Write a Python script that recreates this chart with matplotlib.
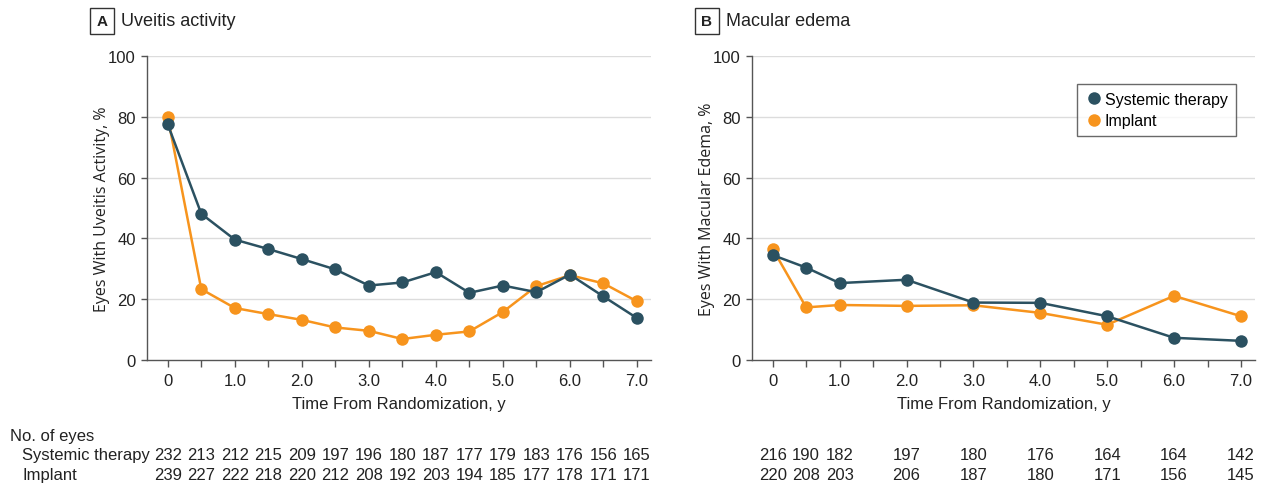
import matplotlib
matplotlib.use("Agg")
import matplotlib.pyplot as plt
from matplotlib.transforms import blended_transform_factory
from matplotlib.lines import Line2D

plt.rcParams['font.family'] = ['Liberation Sans Narrow', 'Liberation Sans', 'DejaVu Sans']

# ---- data ----
time_a = [0, 0.5, 1.0, 1.5, 2.0, 2.5, 3.0, 3.5, 4.0, 4.5, 5.0, 5.5, 6.0, 6.5, 7.0]
uveitis_systemic = [77.5, 48.1, 39.6, 36.5, 33.2, 29.8, 24.5, 25.5, 28.9, 22.1, 24.5, 22.3, 28.1, 20.9, 13.8]
uveitis_implant = [79.9, 23.3, 17.1, 15.1, 13.2, 10.7, 9.6, 6.9, 8.3, 9.4, 15.8, 24.3, 27.9, 25.2, 19.3]
eyes_a_systemic = [232, 213, 212, 215, 209, 197, 196, 180, 187, 177, 179, 183, 176, 156, 165]
eyes_a_implant = [239, 227, 222, 218, 220, 212, 208, 192, 203, 194, 185, 177, 178, 171, 171]

time_b = [0, 0.5, 1.0, 2.0, 3.0, 4.0, 5.0, 6.0, 7.0]
edema_systemic = [34.5, 30.4, 25.3, 26.4, 18.9, 18.8, 14.4, 7.3, 6.3]
edema_implant = [36.5, 17.3, 18.1, 17.8, 18.0, 15.5, 11.6, 21.1, 14.4]
eyes_b_systemic = [216, 190, 182, 197, 180, 176, 164, 164, 142]
eyes_b_implant = [220, 208, 203, 206, 187, 180, 171, 156, 145]

xtick_pos = [0, 1, 2, 3, 4, 5, 6, 7]
xtick_labels = ['0', '1.0', '2.0', '3.0', '4.0', '5.0', '6.0', '7.0']
minor_ticks = [0.5, 1.5, 2.5, 3.5, 4.5, 5.5, 6.5]
yticks = [0, 20, 40, 60, 80, 100]

C_SYS = '#2b5161'
C_IMP = '#f7941d'
SPINE = '#555555'
TXT = '#222222'

fig = plt.figure(figsize=(12.65, 4.89), dpi=100)
W, H = 1265, 489

def fx(px):
    return px / W

def fy(py):
    return 1 - py / H

axA = fig.add_axes([fx(147), fy(361), fx(651) - fx(147), fy(57) - fy(361)])
axB = fig.add_axes([fx(752), fy(361), fx(1255) - fx(752), fy(57) - fy(361)])

def style(ax, ylabel):
    ax.set_xlim(-0.31, 7.21)
    ax.set_ylim(0, 100)
    ax.set_yticks(yticks)
    ax.set_xticks(xtick_pos)
    ax.set_xticklabels(xtick_labels)
    ax.set_xticks(minor_ticks, minor=True)
    for y in yticks[1:]:
        ax.axhline(y, color='#dcdcdc', lw=1.0, zorder=0)
    for s in ['top', 'right']:
        ax.spines[s].set_visible(False)
    for s in ['left', 'bottom']:
        ax.spines[s].set_color(SPINE)
        ax.spines[s].set_linewidth(1.0)
    ax.tick_params(axis='both', which='both', direction='out', color=SPINE,
                   length=5, width=1.0, labelsize=12, labelcolor=TXT, pad=4)
    ax.tick_params(axis='y', length=4)
    ax.set_xlabel('Time From Randomization, y', fontsize=12, color=TXT, labelpad=6)
    ax.set_ylabel(ylabel, fontsize=11.5, color=TXT,
                  family=['Open Sans', 'DejaVu Sans'])
    ax.yaxis.set_label_coords(-0.073, 0.5)

def series(ax, x, y, color, z):
    ax.plot(x, y, color=color, lw=1.8, marker='o', markersize=9,
            markeredgewidth=0, zorder=z, clip_on=False)

style(axA, 'Eyes With Uveitis Activity, %')
series(axA, time_a, uveitis_implant, C_IMP, 3)
series(axA, time_a, uveitis_systemic, C_SYS, 4)

style(axB, 'Eyes With Macular Edema, %')
series(axB, time_b, edema_implant, C_IMP, 3)
series(axB, time_b, edema_systemic, C_SYS, 4)

# legend
handles = [Line2D([], [], ls='none', marker='o', markersize=9, color=C_SYS, markeredgewidth=0),
           Line2D([], [], ls='none', marker='o', markersize=9, color=C_IMP, markeredgewidth=0)]
leg = axB.legend(handles, ['Systemic therapy', 'Implant'], loc='upper left',
                 bbox_to_anchor=((1077 - 752) / (1255 - 752), (361 - 85) / (361 - 57)),
                 frameon=True, fancybox=False, fontsize=11.5, handletextpad=0.15,
                 handlelength=1.1, borderpad=0.5, labelspacing=0.4, borderaxespad=0)
leg.get_frame().set_edgecolor('#444444')
leg.get_frame().set_linewidth(1.0)

# panel titles
fig.text(fx(102), fy(22), 'A', fontsize=11, fontweight='bold', color=TXT, ha='center', va='center',
         bbox=dict(boxstyle='square,pad=0.4', fc='white', ec='#333333', lw=1.0))
fig.text(fx(121), fy(22), 'Uveitis activity', fontsize=13, color=TXT, ha='left', va='center')
fig.text(fx(707), fy(22), 'B', fontsize=11, fontweight='bold', color=TXT, ha='center', va='center',
         bbox=dict(boxstyle='square,pad=0.4', fc='white', ec='#333333', lw=1.0))
fig.text(fx(726), fy(22), 'Macular edema', fontsize=13, color=TXT, ha='left', va='center')

# number at risk table
fig.text(fx(10), fy(437), 'No. of eyes', fontsize=12, color=TXT, ha='left', va='center')
fig.text(fx(22), fy(456), 'Systemic therapy', fontsize=12, color=TXT, ha='left', va='center')
fig.text(fx(22), fy(476), 'Implant', fontsize=12, color=TXT, ha='left', va='center')

trA = blended_transform_factory(axA.transData, fig.transFigure)
trB = blended_transform_factory(axB.transData, fig.transFigure)
for x, s, i in zip(time_a, eyes_a_systemic, eyes_a_implant):
    fig.text(x, fy(456), str(s), transform=trA, fontsize=12, color=TXT, ha='center', va='center')
    fig.text(x, fy(476), str(i), transform=trA, fontsize=12, color=TXT, ha='center', va='center')
for x, s, i in zip(time_b, eyes_b_systemic, eyes_b_implant):
    fig.text(x, fy(456), str(s), transform=trB, fontsize=12, color=TXT, ha='center', va='center')
    fig.text(x, fy(476), str(i), transform=trB, fontsize=12, color=TXT, ha='center', va='center')

fig.savefig('out.png', dpi=100, facecolor='white')
